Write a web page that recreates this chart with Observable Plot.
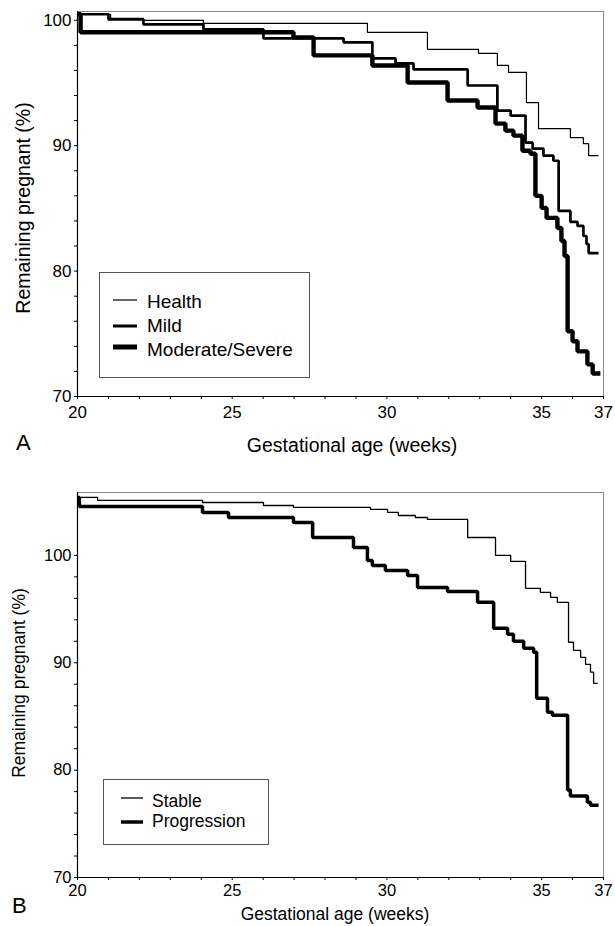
<!DOCTYPE html>
<html><head><meta charset="utf-8">
<script src="https://cdn.jsdelivr.net/npm/d3@7"></script>
<script src="https://cdn.jsdelivr.net/npm/@observablehq/plot@0.6"></script>
<style>
body{margin:0;background:#fff;}
#wrap{position:relative;width:615px;height:926px;overflow:hidden;background:#fff}
#wrap > svg{position:absolute;left:0}
</style></head><body><div id="wrap"></div>
<script>
// ---------- Data ----------
// Panel A
const healthWeeks = [20, 21.07, 22.13, 24.07, 29.37, 31.31, 32.96, 33.57, 33.93, 34.51, 34.90, 35.93, 36.35, 36.52, 36.84];
const healthPct   = [100.48, 100.16, 100.0, 99.76, 99.04, 97.68, 97.36, 96.4, 95.84, 93.44, 91.36, 90.64, 90.16, 89.2, 89.2];

const mildWeeks = [20, 21.0, 22.13, 24.07, 26.01, 28.60, 29.53, 30.28, 30.86, 32.61, 33.57, 34.0, 34.48, 34.71, 35.06, 35.38, 35.55, 35.93, 36.16, 36.35, 36.45, 36.52, 36.84];
const mildPct   = [100.48, 100.08, 99.68, 99.28, 98.56, 98.24, 96.96, 96.56, 96.08, 94.8, 92.8, 92.4, 90.24, 89.76, 89.2, 88.8, 84.8, 83.92, 83.6, 82.8, 82.16, 81.44, 81.44];

const modWeeks = [20, 20.10, 26.98, 27.63, 29.53, 30.67, 31.96, 32.93, 33.51, 33.83, 34.09, 34.38, 34.64, 34.80, 35.0, 35.16, 35.51, 35.64, 35.74, 35.84, 36.0, 36.16, 36.48, 36.65, 36.90];
const modPct   = [100.48, 99.04, 98.64, 97.2, 96.4, 95.04, 93.6, 93.04, 91.76, 91.2, 90.8, 89.6, 89.36, 86.0, 85.04, 84.24, 83.44, 82.4, 81.2, 75.2, 74.4, 73.6, 72.56, 71.84, 71.84];

// Panel B
const stableWeeks = [20, 20.65, 24.04, 26.01, 26.98, 29.47, 30.02, 30.37, 30.92, 31.31, 32.61, 33.51, 34.0, 34.48, 34.96, 35.29, 35.51, 35.87, 36.03, 36.26, 36.42, 36.58, 36.68, 36.81];
const stablePct   = [105.40, 105.12, 104.93, 104.65, 104.47, 104.28, 104.0, 103.72, 103.53, 103.35, 101.67, 100.0, 99.44, 96.93, 96.56, 96.09, 95.63, 91.91, 91.16, 90.51, 89.86, 89.12, 88.09, 88.09];

const progWeeks = [20, 20.06, 24.04, 24.88, 26.98, 27.60, 28.92, 29.37, 29.53, 29.95, 30.67, 30.99, 31.96, 32.93, 33.45, 33.90, 34.09, 34.42, 34.74, 34.84, 35.19, 35.35, 35.84, 35.93, 36.48, 36.58, 36.84];
const progPct   = [105.40, 104.56, 104.0, 103.53, 103.07, 101.67, 100.74, 99.53, 99.07, 98.60, 98.14, 97.02, 96.65, 95.63, 93.21, 92.65, 92.0, 91.35, 90.98, 86.70, 85.40, 85.12, 78.14, 77.58, 77.02, 76.74, 76.74];

const xTickLabels = [20, 25, 30, 35, 37];
const yTickLabels = [70, 80, 90, 100];
const legendA = ["Health", "Mild", "Moderate/Severe"];
const legendB = ["Stable", "Progression"];
const xTitle = "Gestational age (weeks)";
const yTitle = "Remaining pregnant (%)";

// ---------- Build ----------
const FONT = "'Liberation Sans', Arial, Helvetica, sans-serif";
const toRows = (w, p) => w.map((d, i) => ({week: d, pct: p[i]}));

function panel(series, yDomain, fs, tickPad) {
  return Plot.plot({
    width: 615, height: 430,
    marginLeft: 77, marginRight: 12, marginTop: 11, marginBottom: 34,
    style: {fontFamily: FONT, fontSize: fs + "px", color: "#000", background: "transparent", overflow: "visible"},
    x: {domain: [20, 37]},
    y: {domain: yDomain},
    marks: [
      Plot.frame({stroke: "#888", strokeWidth: 1}),
      Plot.axisX({ticks: d3.range(20, 38, 1), tickFormat: d => xTickLabels.includes(d) ? String(d) : "",
                  tickSize: 3, tickPadding: tickPad, label: null, fontSize: fs}),
      Plot.axisY({ticks: d3.range(70, 101, 2), tickFormat: d => yTickLabels.includes(d) ? String(d) : "",
                  tickSize: 3, tickPadding: 3, label: null, fontSize: fs}),
      Plot.ruleX([20], {stroke: "#000", strokeWidth: 1.2}),
      Plot.ruleY([yDomain[0]], {stroke: "#000", strokeWidth: 1.2}),
      ...series.map(s => Plot.line(s.rows, {x: "week", y: "pct", curve: "step-after",
                  stroke: "#000", strokeWidth: s.w, strokeLinejoin: "miter", strokeLinecap: "butt"}))
    ]
  });
}

const wrap = document.getElementById("wrap");

const svgA = panel([
  {rows: toRows(healthWeeks, healthPct), w: 1.2},
  {rows: toRows(mildWeeks, mildPct), w: 2.7},
  {rows: toRows(modWeeks, modPct), w: 4.4}
], [70, 100.7], 17, 6);
svgA.style.top = "0px";
wrap.appendChild(svgA);

const svgB = panel([
  {rows: toRows(stableWeeks, stablePct), w: 1.3},
  {rows: toRows(progWeeks, progPct), w: 3.5}
], [70, 105.86], 16.5, 4);
svgB.style.top = "481px";
wrap.appendChild(svgB);

// ---------- Overlay: titles, panel letters, legends ----------
const ov = d3.select(wrap).append("svg")
  .attr("width", 615).attr("height", 926)
  .style("position", "absolute").style("top", "0px").style("left", "0px")
  .style("font-family", FONT).style("pointer-events", "none");

function titles(letter, letterX, letterY, xtX, xtY, ytX, ytY, fs) {
  ov.append("text").attr("x", letterX).attr("y", letterY).attr("font-size", 22).text(letter);
  ov.append("text").attr("x", xtX).attr("y", xtY).attr("font-size", fs).attr("text-anchor", "middle").text(xTitle);
  ov.append("text").attr("transform", `translate(${ytX},${ytY}) rotate(-90)`).attr("font-size", fs)
    .attr("text-anchor", "middle").text(yTitle);
}
titles("A", 16, 450, 352, 452, 30, 208, 19.5);
titles("B", 12, 913, 335, 920, 25, 683, 17.5);

function legend(items, widths, bx, by, bw, bh, lx1, lx2, lineYs, tx, baseYs, fs) {
  ov.append("rect").attr("x", bx + 0.5).attr("y", by + 0.5).attr("width", bw).attr("height", bh)
    .attr("fill", "#fff").attr("stroke", "#555").attr("stroke-width", 1);
  items.forEach((t, i) => {
    ov.append("line").attr("x1", lx1).attr("x2", lx2).attr("y1", lineYs[i]).attr("y2", lineYs[i])
      .attr("stroke", "#000").attr("stroke-width", widths[i]);
    ov.append("text").attr("x", tx).attr("y", baseYs[i]).attr("font-size", fs).text(t);
  });
}
legend(legendA, [1.2, 3, 5], 99, 272, 210, 105, 113, 137, [300, 326, 347], 147, [308, 332, 356], 19);
legend(legendB, [1.3, 3.5], 103, 779, 165, 65, 121, 143, [798, 822], 152, [807, 827], 17.5);
</script>
</body></html>
